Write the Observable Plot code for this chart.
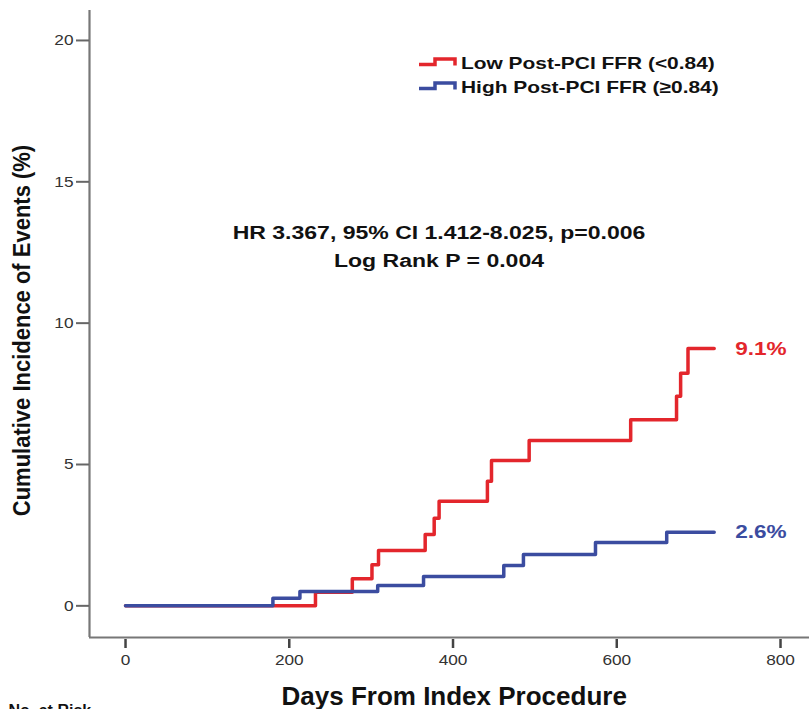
<!DOCTYPE html>
<html>
<head>
<meta charset="utf-8">
<script src="https://cdn.jsdelivr.net/npm/d3@7"></script>
<script src="https://cdn.jsdelivr.net/npm/@observablehq/plot@0.6"></script>
<style>
  html, body { margin: 0; padding: 0; background: #fff; }
  #chart { position: relative; width: 809px; height: 709px; overflow: hidden; }
</style>
</head>
<body>
<div id="chart"></div>
<script>
// ---- data ----
const lowDays  = [0, 232, 277, 301, 309, 366, 377, 383, 442, 447, 493, 617, 673, 678, 687, 719];
const lowPct   = [0, 0.48, 0.96, 1.45, 1.96, 2.52, 3.10, 3.70, 4.41, 5.14, 5.85, 6.58, 7.41, 8.23, 9.1, 9.1];
const highDays = [0, 180, 213, 308, 364, 462, 486, 574, 661, 719];
const highPct  = [0, 0.27, 0.51, 0.72, 1.04, 1.43, 1.82, 2.24, 2.6, 2.6];
const seriesNames  = ["Low Post-PCI FFR (<0.84)", "High Post-PCI FFR (\u22650.84)"];
const seriesColors = ["#e3262c", "#3b4ca0"];
const endLabels    = ["9.1%", "2.6%"];
const xTicks = [0, 200, 400, 600, 800];
const yTicks = [0, 5, 10, 15, 20];
const statLines = ["HR 3.367, 95% CI 1.412-8.025, p=0.006", "Log Rank P = 0.004"];
const xTitle = "Days From Index Procedure";
const yTitle = "Cumulative Incidence of Events (%)";
const riskTitle = "No. at Risk";

// ---- tables built from the arrays ----
const lowRows  = lowDays.map((d, i) => ({series: seriesNames[0], day: d, pct: lowPct[i]}));
const highRows = highDays.map((d, i) => ({series: seriesNames[1], day: d, pct: highPct[i]}));
const endRows = [
  {series: seriesNames[0], day: lowDays[lowDays.length - 1], pct: lowPct[lowPct.length - 1], label: endLabels[0]},
  {series: seriesNames[1], day: highDays[highDays.length - 1], pct: highPct[highPct.length - 1], label: endLabels[1]}
];

const FONT = "'Liberation Sans', Arial, Helvetica, sans-serif";
const xDomain = [-44, 835.4];
const yDomain = [-1.12, 21.06];
const colorScale = {domain: seriesNames, range: seriesColors};

const plot = Plot.plot({
  width: 809,
  height: 709,
  marginLeft: 89,
  marginRight: 0,
  marginTop: 10,
  marginBottom: 72,
  style: {fontFamily: FONT, background: "#fff", color: "#000"},
  x: {domain: xDomain, label: null},
  y: {domain: yDomain, label: null},
  color: colorScale,
  marks: [
    Plot.ruleX([xDomain[0]], {stroke: "#777", strokeWidth: 2.2}),
    Plot.ruleY([yDomain[0]], {stroke: "#777", strokeWidth: 2.2}),
    Plot.axisY({ticks: yTicks, tickSize: 13, tickPadding: 3, stroke: "#666", strokeWidth: 2, color: "#333", fontSize: 15, label: null}),
    Plot.axisX({ticks: xTicks, tickSize: 9, tickPadding: 6, dy: 2, stroke: "#444", strokeWidth: 2.5, color: "#333", fontSize: 15, label: null}),
    Plot.line(lowRows,  {x: "day", y: "pct", stroke: "series", curve: "step-after", strokeWidth: 3.5}),
    Plot.line(highRows, {x: "day", y: "pct", stroke: "series", curve: "step-after", strokeWidth: 3.5}),
    Plot.text(endRows, {x: "day", y: "pct", text: "label", fill: "series", dx: 21, textAnchor: "start", fontSize: 18.5, fontWeight: "bold"}),
    Plot.text([statLines.join("\n")], {frameAnchor: "middle", dx: -10.5, dy: -80.3, lineAnchor: "middle", lineHeight: 1.57, fontSize: 18, fontWeight: "bold", fill: "#111"}),
    Plot.text([yTitle], {frameAnchor: "left", dx: -67, dy: 6.5, rotate: -90, textAnchor: "middle", fontSize: 22, fontWeight: "bold", fill: "#111"}),
    Plot.text([xTitle], {frameAnchor: "bottom", dx: 4.7, dy: 67, lineAnchor: "bottom", textAnchor: "middle", fontSize: 26, fontWeight: "bold", fill: "#111"}),
    Plot.text([riskTitle], {frameAnchor: "bottom-left", dx: -81, dy: 78, lineAnchor: "bottom", textAnchor: "start", fontSize: 16, fontWeight: "bold", fill: "#111"})
  ]
});

// horizontal widening of text to match the reference's stretched type
plot.querySelectorAll("text").forEach(t => {
  const g = t.parentNode;
  const aria = (g && g.getAttribute && g.getAttribute("aria-label")) || "";
  const content = t.textContent;
  let tr = t.getAttribute("transform");
  if (!tr) return;
  if (aria.includes("tick label")) tr += " scale(1.15,1)";
  else if (endLabels.includes(content)) tr += " scale(1.22,1)";
  else if (content.startsWith("HR") || t.querySelector("tspan")) tr += " scale(1.28,1)";
  else if (content === yTitle) tr += " scale(1,1.1)";
  t.setAttribute("transform", tr);
});

// legend
const svg = d3.select(plot);
const lg = svg.append("g").attr("font-family", FONT).attr("text-anchor", "start");
seriesNames.forEach((name, i) => {
  const cy = 62.5 + i * 24;
  lg.append("path")
    .attr("d", `M419,${cy + 2}H435V${cy - 3.5}H455V${cy + 3}`)
    .attr("fill", "none")
    .attr("stroke", seriesColors[i])
    .attr("stroke-width", 3.5);
  lg.append("text")
    .attr("transform", `translate(461,${cy}) scale(1.23,1)`)
    .attr("text-anchor", "start")
    .attr("dy", "0.36em")
    .attr("font-size", 17)
    .attr("font-weight", "bold")
    .attr("fill", "#111")
    .text(name);
});

document.getElementById("chart").appendChild(plot);
</script>
</body>
</html>
